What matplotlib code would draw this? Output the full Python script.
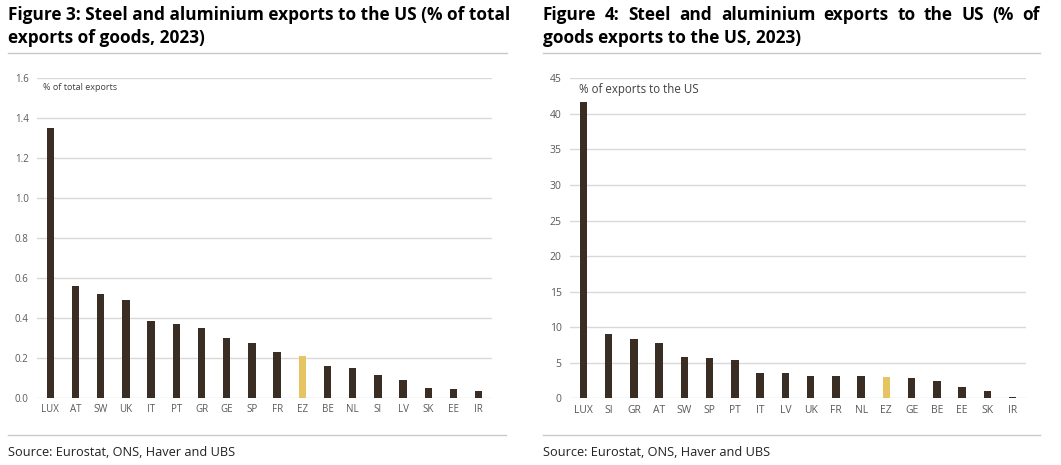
import matplotlib
matplotlib.use('Agg')
import matplotlib.pyplot as plt
from matplotlib.lines import Line2D

W, H = 1061, 465

# Figure 3 data: % of total exports of goods
countries_3 = ['LUX', 'AT', 'SW', 'UK', 'IT', 'PT', 'GR', 'GE', 'SP', 'FR',
               'EZ', 'BE', 'NL', 'SI', 'LV', 'SK', 'EE', 'IR']
share_total = [1.35, 0.556, 0.519, 0.487, 0.384, 0.369, 0.348, 0.296, 0.274, 0.228,
               0.208, 0.157, 0.146, 0.115, 0.086, 0.047, 0.043, 0.033]

# Figure 4 data: % of goods exports to the US
countries_4 = ['LUX', 'SI', 'GR', 'AT', 'SW', 'SP', 'PT', 'IT', 'LV', 'UK',
               'FR', 'NL', 'EZ', 'GE', 'BE', 'EE', 'SK', 'IR']
share_us = [41.6, 9.0, 8.35, 7.8, 5.8, 5.63, 5.4, 3.52, 3.52, 3.14,
            3.1, 3.1, 3.0, 2.9, 2.4, 1.55, 1.03, 0.12]

dark = '#3a2d24'
gold = '#e6c462'
grid_c = '#d9d9d9'
tick_c = '#595959'

plt.rcParams['font.family'] = ['Open Sans', 'DejaVu Sans']

fig = plt.figure(figsize=(W / 100, H / 100), dpi=100)


def fx(x):
    return x / W


def fy(y):
    return 1 - y / H


def hline(x0, x1, y):
    fig.add_artist(Line2D([fx(x0), fx(x1)], [fy(y), fy(y)], color='#c8c8c8',
                          lw=1.0, transform=fig.transFigure))


def bars(ax, cats, vals, ymax, step, fmt, fs, label, label_fs, label_x):
    colors = [gold if c == 'EZ' else dark for c in cats]
    x = range(len(cats))
    ax.bar(x, vals, width=0.29, color=colors, zorder=3)
    ax.set_xlim(-0.53, len(cats) - 0.47)
    ax.set_ylim(0, ymax)
    ticks = [i * step for i in range(int(round(ymax / step)) + 1)]
    ax.set_yticks(ticks)
    ax.set_yticklabels([fmt.format(t) for t in ticks])
    ax.set_xticks(list(x))
    ax.set_xticklabels(cats)
    ax.grid(axis='y', color=grid_c, lw=1.0, zorder=0)
    for s in ax.spines.values():
        s.set_visible(False)
    ax.tick_params(axis='both', length=0, labelsize=fs, colors=tick_c)
    ax.tick_params(axis='y', pad=6)
    ax.tick_params(axis='x', pad=5)
    ax.text(label_x, 0.985, label, transform=ax.transAxes, fontsize=label_fs,
            color='#404040', va='top', ha='left')


ax1 = fig.add_axes([fx(37), fy(397.5), fx(492) - fx(37), fy(78) - fy(397.5)])
bars(ax1, countries_3, share_total, 1.6, 0.2, '{:.1f}', 7, '% of total exports', 6.5, 0.013)

ax2 = fig.add_axes([fx(570), fy(398.3), fx(1026) - fx(570), fy(78.3) - fy(398.3)])
bars(ax2, countries_4, share_us, 45, 5, '{:.0f}', 7.5, '% of exports to the US', 8.3, 0.02)

# titles
title_fs = 12.4
fig.text(fx(8), fy(20), 'Figure 3: Steel and aluminium exports to the US (% of total',
         fontsize=title_fs, fontweight='bold', va='baseline')
fig.text(fx(8), fy(43), 'exports of goods, 2023)',
         fontsize=title_fs, fontweight='bold', va='baseline')

# right title, first line justified between x=543 and x=1040
words = 'Figure 4: Steel and aluminium exports to the US (% of'.split()
renderer = fig.canvas.get_renderer()
objs = [fig.text(0, fy(20), w, fontsize=title_fs, fontweight='bold', va='baseline') for w in words]
widths = [o.get_window_extent(renderer).width for o in objs]
gap = (1040 - 543 - sum(widths)) / (len(words) - 1)
xpos = 543
for o, w in zip(objs, widths):
    o.set_x(fx(xpos))
    xpos += w + gap
fig.text(fx(543), fy(43), 'goods exports to the US, 2023)',
         fontsize=title_fs, fontweight='bold', va='baseline')

hline(8, 507, 53)
hline(543, 1040, 53)
hline(8, 506, 435)
hline(543, 1040, 435)

fig.text(fx(8), fy(456), 'Source: Eurostat, ONS, Haver and UBS', fontsize=9.2,
         color='#222222', va='baseline')
fig.text(fx(543), fy(456), 'Source: Eurostat, ONS, Haver and UBS', fontsize=9.2,
         color='#222222', va='baseline')

fig.savefig('out.png', dpi=100)
